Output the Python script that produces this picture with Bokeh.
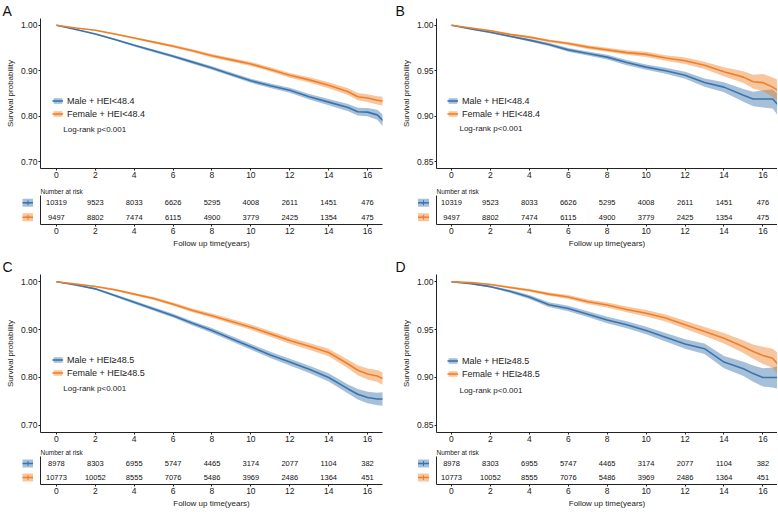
from bokeh.plotting import figure
from bokeh.models import (ColumnDataSource, Legend, LegendItem, Label, FixedTicker,
                          NumeralTickFormatter, Range1d)
from bokeh.layouts import column, row
from bokeh.embed import file_html
from bokeh.resources import INLINE
from bokeh.core.properties import value

FONT = "Liberation Sans"
BLUE = "#3A74AD"
ORANGE = "#F08028"
AXIS = "#222222"

# ---------------- data ----------------
time_years = [0, 1, 2, 3, 4, 5, 6, 7, 8, 9, 10, 11, 12, 13, 14, 15, 15.5, 16, 16.5, 16.8]

A_male = [1.000, 0.991, 0.981, 0.969, 0.956, 0.944, 0.932, 0.919, 0.906, 0.892, 0.878, 0.867, 0.857, 0.843, 0.831, 0.819, 0.810, 0.809, 0.803, 0.790]
A_female = [1.000, 0.994, 0.989, 0.981, 0.972, 0.963, 0.954, 0.944, 0.933, 0.924, 0.915, 0.903, 0.890, 0.880, 0.868, 0.854, 0.843, 0.840, 0.835, 0.833]
A_male_ci = [0, 0.001, 0.0015, 0.002, 0.0025, 0.003, 0.0032, 0.0035, 0.004, 0.0042, 0.0045, 0.005, 0.0055, 0.006, 0.007, 0.008, 0.0085, 0.009, 0.011, 0.013]
A_female_ci = [0, 0.0008, 0.0012, 0.0017, 0.002, 0.0025, 0.003, 0.0033, 0.0037, 0.004, 0.0043, 0.0048, 0.0053, 0.0058, 0.0065, 0.0075, 0.008, 0.0085, 0.009, 0.010]

B_male = [1.000, 0.996, 0.9924, 0.988, 0.9837, 0.979, 0.973, 0.969, 0.965, 0.959, 0.954, 0.950, 0.945, 0.937, 0.932, 0.923, 0.919, 0.919, 0.919, 0.912]
B_female = [1.000, 0.997, 0.994, 0.990, 0.987, 0.983, 0.980, 0.976, 0.973, 0.970, 0.968, 0.964, 0.961, 0.956, 0.949, 0.943, 0.938, 0.937, 0.932, 0.928]
B_male_ci = [0, 0.0006, 0.001, 0.0012, 0.0015, 0.0018, 0.002, 0.0022, 0.0025, 0.0028, 0.003, 0.0034, 0.0038, 0.0045, 0.0055, 0.007, 0.008, 0.0095, 0.0105, 0.012]
B_female_ci = [0, 0.0005, 0.0008, 0.001, 0.0013, 0.0015, 0.0017, 0.002, 0.0022, 0.0025, 0.0028, 0.0031, 0.0035, 0.004, 0.005, 0.0065, 0.0075, 0.0095, 0.0105, 0.012]

C_male = [1.000, 0.993, 0.985, 0.971, 0.957, 0.943, 0.929, 0.913, 0.898, 0.881, 0.864, 0.847, 0.832, 0.817, 0.800, 0.776, 0.765, 0.758, 0.755, 0.755]
C_female = [1.000, 0.995, 0.990, 0.983, 0.974, 0.965, 0.953, 0.940, 0.929, 0.917, 0.905, 0.891, 0.877, 0.865, 0.852, 0.828, 0.815, 0.807, 0.803, 0.797]
C_male_ci = [0, 0.0012, 0.0018, 0.0025, 0.003, 0.0035, 0.004, 0.0045, 0.005, 0.0055, 0.006, 0.0065, 0.007, 0.0075, 0.0085, 0.0095, 0.011, 0.012, 0.013, 0.014]
C_female_ci = [0, 0.001, 0.0015, 0.002, 0.0025, 0.003, 0.0035, 0.004, 0.0045, 0.005, 0.0055, 0.006, 0.0065, 0.007, 0.008, 0.009, 0.0105, 0.0115, 0.0125, 0.013]

D_male = [1.000, 0.998, 0.9948, 0.990, 0.984, 0.976, 0.972, 0.966, 0.960, 0.955, 0.949, 0.942, 0.935, 0.930, 0.916, 0.909, 0.904, 0.900, 0.900, 0.900]
D_female = [1.000, 0.999, 0.997, 0.994, 0.991, 0.987, 0.984, 0.979, 0.9756, 0.971, 0.967, 0.962, 0.955, 0.948, 0.941, 0.932, 0.927, 0.923, 0.920, 0.913]
D_male_ci = [0, 0.0006, 0.001, 0.0015, 0.002, 0.0025, 0.0028, 0.003, 0.0033, 0.0036, 0.004, 0.0045, 0.005, 0.0055, 0.0065, 0.0075, 0.0085, 0.0095, 0.0105, 0.012]
D_female_ci = [0, 0.0005, 0.0008, 0.0011, 0.0014, 0.0017, 0.002, 0.0023, 0.0026, 0.003, 0.0033, 0.0037, 0.0042, 0.0048, 0.0055, 0.0065, 0.0075, 0.009, 0.010, 0.012]

risk_times = [0, 2, 4, 6, 8, 10, 12, 14, 16]
risk_rows = [2, 1]          # table row of each group (male on top)
AB_male_risk = [10319, 9523, 8033, 6626, 5295, 4008, 2611, 1451, 476]
AB_female_risk = [9497, 8802, 7474, 6115, 4900, 3779, 2425, 1354, 475]
CD_male_risk = [8978, 8303, 6955, 5747, 4465, 3174, 2077, 1104, 382]
CD_female_risk = [10773, 10052, 8555, 7076, 5486, 3969, 2486, 1364, 451]

x_ticks = [0, 2, 4, 6, 8, 10, 12, 14, 16]
yticks_wide = [0.70, 0.80, 0.90, 1.00]
yticks_narrow = [0.85, 0.90, 0.95, 1.00]
labels_low = ["Male + HEI<48.4", "Female + HEI<48.4"]
labels_high = ["Male + HEI\u226548.5", "Female + HEI\u226548.5"]
logrank_text = "Log-rank p<0.001"
risk_title = "Number at risk"
x_title = "Follow up time(years)"
y_title = "Survival probability"


def style_axes(p):
    for ax in p.axis:
        ax.axis_line_color = AXIS
        ax.axis_line_width = 1
        ax.major_tick_line_color = AXIS
        ax.major_tick_in = 0
        ax.major_tick_out = 2
        ax.minor_tick_line_color = None
        ax.major_label_text_font = FONT
        ax.major_label_text_font_size = "8.5px"
        ax.major_label_text_color = AXIS
        ax.major_label_standoff = 1
        ax.axis_label_text_font = FONT
        ax.axis_label_text_font_style = "normal"
        ax.axis_label_text_color = AXIS
        ax.axis_label_standoff = 3


def base_fig(width, height, bl, br, bt, bb, xr, yr, **kw):
    p = figure(width=width, height=height, x_range=Range1d(*xr), y_range=Range1d(*yr),
               output_backend="svg", toolbar_location=None,
               min_border_left=bl, min_border_right=br,
               min_border_top=bt, min_border_bottom=bb, **kw)
    p.outline_line_color = None
    p.xgrid.visible = False
    p.ygrid.visible = False
    p.background_fill_color = "white"
    p.border_fill_color = "white"
    return p


def km_panel(letter, width, height, bl, br, bt, bb, xr, yr, yticks,
             male, male_ci, female, female_ci, labels, lr_xy, letter_x, leg_xy):
    p = base_fig(width, height, bl, br, bt, bb, xr, yr)
    src = ColumnDataSource(dict(
        t=time_years,
        m=male, m_lo=[s - c for s, c in zip(male, male_ci)], m_hi=[s + c for s, c in zip(male, male_ci)],
        f=female, f_lo=[s - c for s, c in zip(female, female_ci)], f_hi=[s + c for s, c in zip(female, female_ci)],
    ))
    bands = {}
    for key, color in (("m", BLUE), ("f", ORANGE)):
        bands[key] = p.varea(x="t", y1=key + "_lo", y2=key + "_hi", source=src,
                             fill_color=color, fill_alpha=0.45)
    items = []
    for key, color, lab in (("m", BLUE, labels[0]), ("f", ORANGE, labels[1])):
        ln = p.line(x="t", y=key, source=src, line_color=color, line_width=1.6)
        mk = p.scatter(x=[], y=[], marker="cross", size=6, line_color=color, line_width=1)
        items.append(LegendItem(label=lab, renderers=[bands[key], ln, mk]))
    leg = Legend(items=items, location=leg_xy, glyph_width=11, glyph_height=7,
                 label_height=13, label_standoff=4, spacing=0, padding=0, margin=0,
                 border_line_color=None, background_fill_alpha=0,
                 label_text_font=FONT, label_text_font_size="9px", label_text_color=AXIS)
    p.add_layout(leg)

    p.xaxis.ticker = FixedTicker(ticks=x_ticks)
    p.yaxis.ticker = FixedTicker(ticks=yticks)
    p.yaxis.formatter = NumeralTickFormatter(format="0.00")
    p.yaxis.axis_label = y_title
    style_axes(p)
    p.yaxis.axis_label_text_font_size = "8px"

    p.add_layout(Label(x=lr_xy[0], y=lr_xy[1], text=logrank_text, text_font=FONT,
                       text_font_size="8px", text_baseline="middle", text_color=AXIS))
    p.title.text = letter
    p.title.text_font = FONT
    p.title.text_font_size = "14px"
    p.title.text_font_style = "normal"
    p.title.text_color = "#111111"
    p.title.align = "left"
    p.title.offset = letter_x - bl
    p.title.standoff = 0
    return p


def swatch_panel(width, height, bt, bb, center):
    # x range in pixels, the key centred at x = 0
    p = base_fig(width, height, 0, 0, bt, bb, (-center, width - center), (0.5, 2.5),
                 x_axis_location=None, y_axis_location=None)
    src = ColumnDataSource(dict(x=[0, 0], y=risk_rows, c=[BLUE, ORANGE]))
    p.rect(x="x", y="y", width=11, height=8, width_units="screen", height_units="screen",
           source=src, fill_color="c", fill_alpha=0.45, line_color=None)
    p.scatter(x="x", y="y", source=src, marker="dash", size=11, line_color="c", line_width=1.3)
    p.scatter(x="x", y="y", source=src, marker="cross", size=5, line_color="c", line_width=1)
    return p


def risk_panel(width, height, bl, br, bt, bb, xr, male_n, female_n):
    p = base_fig(width, height, bl, br, bt, bb, xr, (0.5, 2.5))
    p.title.text = risk_title
    p.title.text_font = FONT
    p.title.text_font_size = "6.5px"
    p.title.text_font_style = "normal"
    p.title.align = "left"
    p.title.standoff = 1
    p.title.text_color = AXIS
    src = ColumnDataSource(dict(
        x=risk_times + risk_times,
        y=[risk_rows[0]] * len(male_n) + [risk_rows[1]] * len(female_n),
        txt=[str(v) for v in male_n + female_n],
    ))
    p.text(x="x", y="y", text="txt", source=src, text_font=value(FONT),
           text_font_size="7.5px", text_align="center", text_baseline="middle",
           text_color="#111111")
    p.xaxis.ticker = FixedTicker(ticks=x_ticks)
    p.xaxis.axis_label = x_title
    p.yaxis.ticker = FixedTicker(ticks=[])
    style_axes(p)
    p.xaxis.axis_label_text_font_size = "8px"
    p.xaxis.axis_label_standoff = 2
    p.yaxis.major_tick_out = 0
    return p


XR_L = (-0.82, 16.77)
XR_R = (-0.77, 16.75)
YR_W = (0.685, 1.015)
YR_N = (0.8425, 1.0075)
WL, WR = 389, 388
BL_L, BR_L = 40, 7
BL_R, BR_R = 47, 0

pA = km_panel("A", WL, 183, BL_L, BR_L, 16, 15, XR_L, YR_W, yticks_wide,
              A_male, A_male_ci, A_female, A_female_ci, labels_low, (0.35, 0.771), 2, (12, 48))
pB = km_panel("B", WR, 183, BL_R, BR_R, 16, 15, XR_R, YR_N, yticks_narrow,
              B_male, B_male_ci, B_female, B_female_ci, labels_low, (0.41, 0.8865), 6, (11, 48))

sA = swatch_panel(33, 69, 12, 28, 27.5)
tA = risk_panel(WL - 33, 69, 7, BR_L, 12, 28, XR_L, AB_male_risk, AB_female_risk)
sB = swatch_panel(40, 69, 12, 28, 34)
tB = risk_panel(WR - 40, 69, 7, BR_R, 12, 28, XR_R, AB_male_risk, AB_female_risk)

pC = km_panel("C", WL, 194, BL_L, BR_L, 22, 14, XR_L, YR_W, yticks_wide,
              C_male, C_male_ci, C_female, C_female_ci, labels_high, (0.35, 0.777), 2, (12, 53))
pD = km_panel("D", WR, 194, BL_R, BR_R, 22, 14, XR_R, YR_N, yticks_narrow,
              D_male, D_male_ci, D_female, D_female_ci, labels_high, (0.41, 0.8865), 6, (11, 52))

sC = swatch_panel(33, 65, 9, 27, 27.5)
tC = risk_panel(WL - 33, 65, 7, BR_L, 9, 27, XR_L, CD_male_risk, CD_female_risk)
sD = swatch_panel(40, 65, 9, 27, 34)
tD = risk_panel(WR - 40, 65, 7, BR_R, 9, 27, XR_R, CD_male_risk, CD_female_risk)

layout = column(row(pA, pB),
                row(sA, tA, sB, tB),
                row(pC, pD),
                row(sC, tC, sD, tD))

open("out.html", "w").write(file_html(layout, INLINE))
